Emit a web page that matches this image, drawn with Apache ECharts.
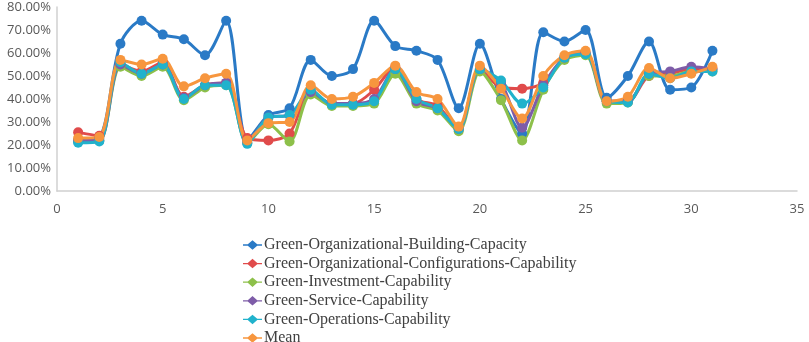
<!DOCTYPE html>
<html>
<head>
<meta charset="utf-8">
<script src="https://cdn.jsdelivr.net/npm/echarts@6/dist/echarts.min.js"></script>
<style>
  html, body { margin: 0; padding: 0; background: #fff; }
  #main { width: 809px; height: 342px; }
</style>
</head>
<body>
<div id="main"></div>
<script>
    // samples 1..31, values in percent
    var xs = [1, 2, 3, 4, 5, 6, 7, 8, 9, 10, 11, 12, 13, 14, 15, 16, 17, 18, 19, 20, 21, 22, 23, 24, 25, 26, 27, 28, 29, 30, 31];
    var building = [21.5, 23, 64, 74, 68, 66, 59, 74, 22, 33, 36, 57, 50, 53, 74, 63, 61, 57, 36, 64, 40, 25, 69, 65, 70, 40.5, 50, 65, 44, 45, 61];
    var configurations = [25.5, 24, 55, 52, 56, 41, 46, 47, 23, 22, 25, 43, 38, 38, 44, 54, 40, 37, 27, 53, 45, 44.5, 47, 58, 60, 39, 39, 50, 51, 53, 53];
    var investment = [22, 22, 54, 50, 54, 39.5, 45, 46, 21, 29, 21.5, 42, 37, 37, 38, 51, 38, 35, 26, 52, 39.5, 22, 44, 57, 59, 38, 38.5, 50, 50, 52, 52];
    var service = [22, 22, 55, 51, 55, 40.5, 46, 47, 21, 32, 33, 43, 38, 38, 40, 53, 39, 36, 27, 53, 47, 27.5, 46, 58, 60, 39, 39, 51, 52, 54, 53];
    var operations = [21, 21.5, 56, 51, 55, 40, 46, 46, 20.5, 32, 33, 44, 37.5, 37.5, 39, 53, 40, 36, 27, 53, 48, 38, 45, 58, 59.5, 39, 38.5, 51, 49, 52, 52];
    var mean = [23, 23.5, 57, 55, 57.5, 45.5, 49, 51, 22, 29.5, 30, 46, 40, 41, 47, 54.5, 43, 40, 28, 54.5, 44.5, 31.5, 50, 59, 61, 39, 41, 53.5, 49, 51, 54];

    var names = [
        'Green-Organizational-Building-Capacity',
        'Green-Organizational-Configurations-Capability',
        'Green-Investment-Capability',
        'Green-Service-Capability',
        'Green-Operations-Capability',
        'Mean'
    ];
    var values = [building, configurations, investment, service, operations, mean];
    var colors = ['#2A7AC6', '#E04B4B', '#8DC04A', '#7E5CA8', '#21B2CC', '#F7963E'];

    function pairs(arr) {
        return xs.map(function (x, i) { return [x, arr[i]]; });
    }

    var legendIcon = 'path://M0,4.3 L5,4.3 L10,0 L15,4.3 L20,4.3 L20,5.7 L15,5.7 L10,10 L5,5.7 L0,5.7 Z';

    var myChart = echarts.init(document.getElementById('main'));
    var option = {
        animation: false,
        color: colors,
        grid: {
            left: 57,
            right: 12,
            top: 7,
            height: 184
        },
        legend: {
            orient: 'vertical',
            left: 238,
            top: 232,
            height: 112,
            itemWidth: 19,
            itemHeight: 12,
            itemGap: 2.6,
            icon: legendIcon,
            data: names,
            textStyle: {
                fontFamily: 'Liberation Serif',
                fontSize: 16,
                lineHeight: 16,
                color: '#404040',
                padding: [0, 0, 0, -3]
            }
        },
        xAxis: {
            type: 'value',
            min: 0,
            max: 35,
            interval: 5,
            splitLine: { show: false },
            axisLine: { show: true, lineStyle: { color: '#d0d0d0', width: 1.5 } },
            axisTick: { show: false },
            axisLabel: { color: '#595959', fontSize: 13, fontFamily: 'Open Sans', margin: 12 }
        },
        yAxis: {
            type: 'value',
            min: 0,
            max: 80,
            interval: 10,
            splitLine: { show: false },
            axisLine: { show: true, lineStyle: { color: '#d0d0d0', width: 1.5 } },
            axisTick: { show: false },
            axisLabel: {
                color: '#595959',
                fontSize: 13,
                fontFamily: 'Open Sans',
                margin: 6,
                formatter: function (v) { return v.toFixed(2) + '%'; }
            }
        },
        series: names.map(function (n, i) {
            return {
                name: n,
                type: 'line',
                smooth: 0.3,
                symbol: 'circle',
                symbolSize: 10,
                lineStyle: { width: 3 },
                data: pairs(values[i])
            };
        })
    };
    myChart.setOption(option);
</script>
</body>
</html>
